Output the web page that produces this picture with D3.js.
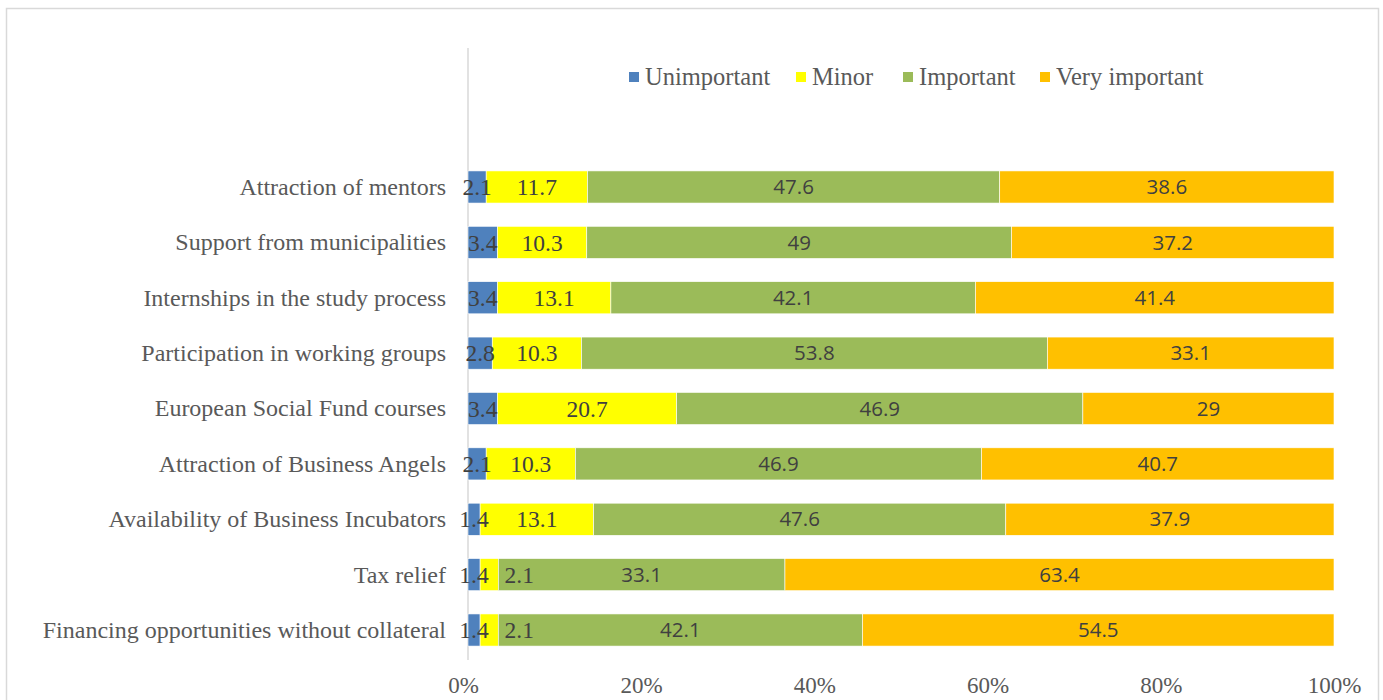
<!DOCTYPE html>
<html><head><meta charset="utf-8">
<script src="https://cdn.jsdelivr.net/npm/d3@7"></script>
<style>html,body{margin:0;padding:0;background:#fff;overflow:hidden}</style>
</head><body>
<svg id="chart" width="1383" height="700"></svg>
<script>
const categories = [
  "Attraction of mentors",
  "Support from municipalities",
  "Internships in the study process",
  "Participation in working groups",
  "European Social Fund courses",
  "Attraction of Business Angels",
  "Availability of Business Incubators",
  "Tax relief",
  "Financing opportunities without collateral"
];
const seriesNames = ["Unimportant", "Minor", "Important", "Very important"];
const unimportant = [2.1, 3.4, 3.4, 2.8, 3.4, 2.1, 1.4, 1.4, 1.4];
const minor       = [11.7, 10.3, 13.1, 10.3, 20.7, 10.3, 13.1, 2.1, 2.1];
const important   = [47.6, 49, 42.1, 53.8, 46.9, 46.9, 47.6, 33.1, 42.1];
const veryImportant = [38.6, 37.2, 41.4, 33.1, 29, 40.7, 37.9, 63.4, 54.5];
const tickValues = [0, 0.2, 0.4, 0.6, 0.8, 1.0];
const colors = ["#4f81bd", "#ffff00", "#9bbb59", "#ffc000"];

const seriesValues = [unimportant, minor, important, veryImportant];
const svg = d3.select("#chart");
const SERIF = "'Liberation Serif','DejaVu Serif',serif";

// outer border
svg.append("rect").attr("x", 6.5).attr("y", 8.5).attr("width", 1372).attr("height", 720)
  .attr("fill", "none").attr("stroke", "#d9d9d9").attr("stroke-width", 1.5);

const x = d3.scaleLinear().domain([0, 1]).range([468, 1334]);
const y = d3.scaleBand().domain(categories).range([159.3, 657.7]).paddingInner(0.42).paddingOuter(0.21);

// normalized stack (100% stacked)
const rows = categories.map((c, i) => {
  const vals = seriesValues.map(s => s[i]);
  const tot = d3.sum(vals);
  const o = {cat: c};
  seriesNames.forEach((n, k) => { o[n] = vals[k] / tot; o[n + "_raw"] = vals[k]; });
  return o;
});
const stacked = d3.stack().keys(seriesNames)(rows);

// axis line
svg.append("line").attr("x1", x(0)).attr("x2", x(0)).attr("y1", 48).attr("y2", 660)
  .attr("stroke", "#d9d9d9").attr("stroke-width", 1.5);

const g = svg.append("g");
stacked.forEach((layer, k) => {
  g.selectAll(null).data(layer).enter().append("rect")
    .attr("x", d => x(d[0]))
    .attr("width", d => x(d[1]) - x(d[0]))
    .attr("y", d => y(d.data.cat))
    .attr("height", y.bandwidth())
    .attr("fill", colors[k])
    .attr("stroke", "#ffffff").attr("stroke-width", 0.6);
});

// data labels
stacked.forEach((layer, k) => {
  const serif = k < 2;
  g.selectAll(null).data(layer).enter().append("text")
    .attr("x", d => {
      let cx = (x(d[0]) + x(d[1])) / 2;
      if (k === 1 && (x(d[1]) - x(d[0])) < 25) cx += 30;
      return cx;
    })
    .attr("y", d => y(d.data.cat) + y.bandwidth() / 2)
    .attr("dy", "0.35em")
    .attr("text-anchor", "middle")
    .attr("font-family", serif ? SERIF : "'Open Sans','Noto Sans',sans-serif")
    .attr("font-size", serif ? 23.5 : 20.5)
    .attr("fill", "#404040")
    .text(d => d.data[seriesNames[k] + "_raw"]);
});

// category axis labels
const yAxis = d3.axisLeft(y).tickSize(0).tickPadding(22);
const ya = svg.append("g").attr("transform", `translate(${x(0)},0)`).call(yAxis);
ya.select(".domain").remove();
ya.selectAll("text").attr("font-family", SERIF).attr("font-size", 24)
  .attr("fill", "#595959").attr("dy", "0.33em");

// x axis labels
const xAxis = d3.axisBottom(x).tickValues(tickValues).tickSize(0).tickPadding(0).tickFormat(d3.format(".0%"));
const xa = svg.append("g").attr("transform", `translate(0,677)`).call(xAxis);
xa.select(".domain").remove();
xa.selectAll("text").attr("font-family", SERIF).attr("font-size", 23)
  .attr("fill", "#595959").attr("dy", "0.71em");
xa.selectAll(".tick").filter(d => d === 0).select("text").attr("dx", -5);

// legend
const legendX = [629, 796, 903, 1040];
const lg = svg.append("g");
seriesNames.forEach((n, k) => {
  lg.append("rect").attr("x", legendX[k]).attr("y", 72).attr("width", 10).attr("height", 10).attr("fill", colors[k]);
  lg.append("text").attr("x", legendX[k] + 16).attr("y", 77).attr("dy", "0.33em")
    .attr("font-family", SERIF).attr("font-size", 24.5).attr("fill", "#595959").text(n);
});
</script>
</body></html>
